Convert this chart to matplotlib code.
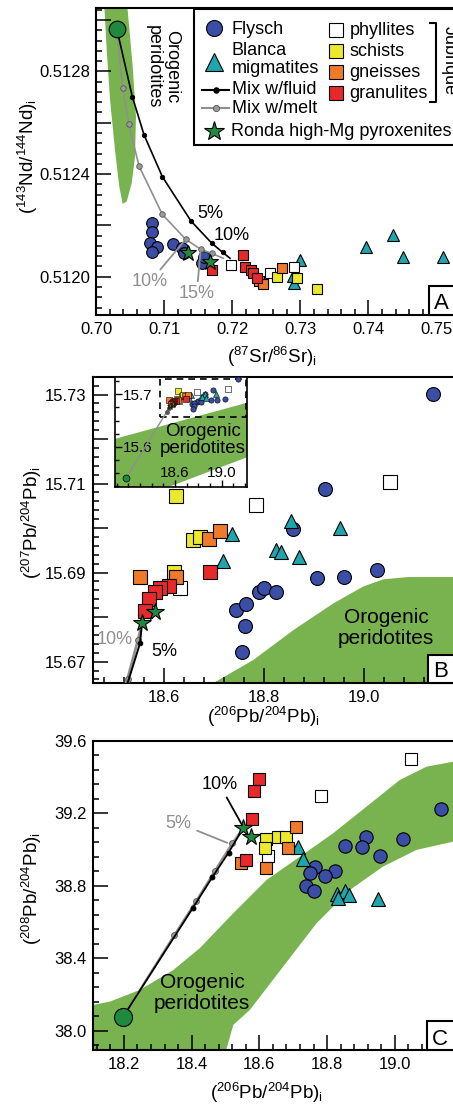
import matplotlib
matplotlib.use("Agg")
import matplotlib.pyplot as plt
from matplotlib.lines import Line2D
from matplotlib.patches import Rectangle
from matplotlib.ticker import MultipleLocator, FixedLocator, FuncFormatter, FormatStrFormatter

plt.rcParams['font.family'] = ['Liberation Sans', 'DejaVu Sans']
plt.rcParams['mathtext.fontset'] = 'custom'
plt.rcParams['mathtext.rm'] = 'Liberation Sans'
plt.rcParams['mathtext.it'] = 'Liberation Sans:italic'
plt.rcParams['mathtext.bf'] = 'Liberation Sans:bold'
plt.rcParams['mathtext.default'] = 'regular'
plt.rcParams['axes.linewidth'] = 1.5

W, H = 453, 1104

# colours
FLYSCH = '#3a4ea5'
BLANCA = '#1ea5ad'
PHYL = 'white'
SCHIST = '#ece82c'
GNEISS = '#ee7a2a'
GRANUL = '#e62a2a'
STAR = '#1f8a3e'
FIELD = '#79b350'
GREY = '#8f8f8f'

# ---------------- panel A : (87Sr/86Sr)i vs (143Nd/144Nd)i
a_flysch_sr = [0.70818, 0.70818, 0.70793, 0.70891, 0.70818, 0.71135, 0.71258, 0.71297, 0.71552, 0.71586]
a_flysch_nd = [0.512208, 0.512173, 0.512133, 0.512117, 0.512098, 0.512126, 0.512111, 0.512091, 0.512052, 0.512078]
a_blanca_sr = [0.72996, 0.72897, 0.72908, 0.73965, 0.74366, 0.74513, 0.75100]
a_blanca_nd = [0.512065, 0.512003, 0.511974, 0.512115, 0.512163, 0.512078, 0.512078]
a_phyl_sr = [0.71978, 0.72555, 0.72903]
a_phyl_nd = [0.512044, 0.512013, 0.512039]
a_schist_sr = [0.72653, 0.72947, 0.73241]
a_schist_nd = [0.512000, 0.511994, 0.511951]
a_gneiss_sr = [0.72394, 0.72457, 0.72727]
a_gneiss_nd = [0.511983, 0.511972, 0.512033]
a_granul_sr = [0.71699, 0.72163, 0.72188, 0.72276, 0.72310, 0.72360]
a_granul_nd = [0.512026, 0.512085, 0.512039, 0.512026, 0.512014, 0.511994]
a_ronda_sr = [0.71355, 0.71674]
a_ronda_nd = [0.512094, 0.512056]
a_perid_sr = [0.70304]
a_perid_nd = [0.512967]
a_fluid_sr = [0.70304, 0.70533, 0.70705, 0.70974, 0.71395, 0.71703, 0.71860, 0.71968]
a_fluid_nd = [0.512967, 0.512702, 0.512553, 0.512390, 0.512217, 0.512130, 0.512095, 0.512072]
a_melt_sr = [0.70304, 0.70392, 0.70480, 0.70631, 0.70974, 0.71317, 0.71537, 0.71699, 0.71869]
a_melt_nd = [0.512967, 0.512735, 0.512595, 0.512432, 0.512243, 0.512146, 0.512107, 0.512091, 0.512072]
a_field_sr = [0.70117, 0.70157, 0.70206, 0.70279, 0.70342, 0.70392, 0.70451, 0.70524, 0.70573, 0.70587, 0.70539, 0.70451]
a_field_nd = [0.51308, 0.512885, 0.51269, 0.512494, 0.512351, 0.512284, 0.512293, 0.512364, 0.512468, 0.512624, 0.512819, 0.51308]

# ---------------- panel B : (206Pb/204Pb)i vs (207Pb/204Pb)i
b_flysch_x = [19.139, 18.922, 18.859, 18.907, 18.960, 19.027, 18.790, 18.800, 18.825, 18.745, 18.765, 18.762, 18.757]
b_flysch_y = [15.7301, 15.7088, 15.6999, 15.6887, 15.6890, 15.6906, 15.6856, 15.6865, 15.6857, 15.6815, 15.6829, 15.6781, 15.6722]
b_blanca_x = [18.855, 18.952, 18.737, 18.719, 18.825, 18.835, 18.870]
b_blanca_y = [15.7015, 15.7000, 15.6986, 15.6925, 15.6951, 15.6946, 15.6936]
b_phyl_x = [19.053, 18.785, 18.633]
b_phyl_y = [15.7103, 15.7051, 15.6865]
b_schist_x = [18.625, 18.659, 18.673, 18.621]
b_schist_y = [15.7073, 15.6973, 15.6979, 15.6902]
b_gneiss_x = [18.552, 18.690, 18.713, 18.625]
b_gneiss_y = [15.6889, 15.6975, 15.6994, 15.6891]
b_granul_x = [18.693, 18.610, 18.592, 18.582, 18.571, 18.562]
b_granul_y = [15.6902, 15.6869, 15.6866, 15.6856, 15.6840, 15.6814]
b_ronda_x = [18.557, 18.583]
b_ronda_y = [15.6786, 15.6812]
b_perid_x = [18.18]
b_perid_y = [15.540]
b_fluid_x = [18.18, 18.553, 18.557]
b_fluid_y = [15.540, 15.6741, 15.6786]
b_melt_x = [18.18, 18.528, 18.549, 18.557]
b_melt_y = [15.540, 15.6661, 15.6749, 15.6786]
b_field_x = [18.68, 18.70, 18.78, 18.86, 18.94, 19.00, 19.04, 19.09, 19.35, 19.35]
b_field_y = [15.66, 15.6652, 15.6704, 15.6771, 15.6831, 15.6869, 15.6885, 15.6890, 15.6890, 15.66]
inset_field_x = [18.0, 19.3, 19.3, 18.557, 18.54, 18.0]
inset_field_y = [15.610, 15.689, 15.587, 15.5245, 15.52, 15.52]

# ---------------- panel C : (206Pb/204Pb)i vs (208Pb/204Pb)i
c_flysch_x = [19.136, 19.024, 18.916, 18.902, 18.852, 18.956, 18.823, 18.793, 18.764, 18.749, 18.739, 18.761]
c_flysch_y = [39.224, 39.057, 39.071, 39.016, 39.021, 38.966, 38.884, 38.854, 38.906, 38.869, 38.801, 38.773]
c_blanca_x = [18.713, 18.730, 18.828, 18.852, 18.865, 18.832, 18.949]
c_blanca_y = [39.013, 38.946, 38.753, 38.772, 38.750, 38.731, 38.726]
c_phyl_x = [19.049, 18.781, 18.626]
c_phyl_y = [39.499, 39.297, 38.966]
c_schist_x = [18.621, 18.654, 18.678, 18.616]
c_schist_y = [39.057, 39.068, 39.068, 39.007]
c_gneiss_x = [18.546, 18.708, 18.685, 18.619]
c_gneiss_y = [38.924, 39.126, 39.007, 38.897]
c_granul_x = [18.599, 18.584, 18.577, 18.562]
c_granul_y = [39.389, 39.325, 39.167, 38.943]
c_ronda_x = [18.552, 18.574]
c_ronda_y = [39.117, 39.071]
c_perid_x = [18.198]
c_perid_y = [38.079]
c_fluid_x = [18.198, 18.403, 18.461, 18.509, 18.552]
c_fluid_y = [38.079, 38.676, 38.847, 38.983, 39.117]
c_melt_x = [18.198, 18.349, 18.413, 18.469, 18.520, 18.552]
c_melt_y = [38.079, 38.529, 38.715, 38.884, 39.035, 39.117]
c_field_x = [18.05, 18.109, 18.159, 18.247, 18.346, 18.424, 18.523, 18.621, 18.720, 18.818, 18.916, 19.015,
             19.094, 19.171, 19.35, 19.35, 19.171, 19.064, 18.965, 18.867, 18.769, 18.670, 18.572, 18.523,
             18.503, 18.50, 18.05]
c_field_y = [38.14, 38.143, 38.162, 38.226, 38.336, 38.456, 38.649, 38.832, 38.961, 39.090, 39.236, 39.384,
             39.457, 39.484, 39.50, 39.06, 39.043, 38.998, 38.906, 38.777, 38.594, 38.354, 38.116, 38.033,
             37.90, 37.85, 37.85]

fig = plt.figure(figsize=(W / 100, H / 100), dpi=100)


def fx(px):
    return px / W


def fy(py):
    return 1 - py / H


def axes_px(left, top, right, bottom):
    return fig.add_axes([left / W, 1 - bottom / H, (right - left) / W, (bottom - top) / H])


def setup(ax, xlim, ylim, xmaj, xmin, ymaj, ymin, xfmt, yfmt):
    ax.set_xlim(*xlim)
    ax.set_ylim(*ylim)
    ax.xaxis.set_major_locator(MultipleLocator(xmaj))
    ax.xaxis.set_minor_locator(MultipleLocator(xmin))
    ax.yaxis.set_major_locator(MultipleLocator(ymaj))
    ax.yaxis.set_minor_locator(MultipleLocator(ymin))
    ax.xaxis.set_major_formatter(xfmt)
    ax.yaxis.set_major_formatter(yfmt)
    ax.tick_params(which='both', direction='in', top=False, right=False, width=1.1, labelsize=12)
    ax.tick_params(axis='x', pad=5)
    ax.tick_params(axis='y', pad=4.5)
    ax.tick_params(which='major', length=11)
    ax.tick_params(which='minor', length=4.5)


def labels(ax, xl, yl, xpos, ypos):
    ax.set_xlabel(xl, fontsize=13.5)
    ax.set_ylabel(yl, fontsize=13.5)
    ax.xaxis.set_label_coords(fx(xpos[0]), fy(xpos[1]), transform=fig.transFigure)
    ax.yaxis.set_label_coords(fx(ypos[0]), fy(ypos[1]), transform=fig.transFigure)
    ax.xaxis.label.set_va('center')
    ax.yaxis.label.set_va('center')


def pts(ax, x, y, marker, fc, ms, z=3, mew=0.8):
    ax.plot(x, y, ls='none', marker=marker, ms=ms, mfc=fc, mec='black', mew=mew, zorder=z)


def mixing(ax, x, y, color, dot_fc, dot_ec, dot_ms, lw=1.2, z=4):
    ax.plot(x, y, color=color, lw=lw, zorder=z)
    ax.plot(x[1:-1], y[1:-1], ls='none', marker='o', ms=dot_ms, mfc=dot_fc, mec=dot_ec, mew=0.6, zorder=z)


def panel_letter(letter, left, top, bottom, baseline):
    fig.add_artist(Rectangle((fx(left), fy(bottom)), (490 - left) / W, (bottom - top) / H,
                             transform=fig.transFigure, fc='white', ec='black', lw=1.5, zorder=5))
    fig.text(fx(left + 5), fy(baseline), letter, fontsize=16, ha='left', va='baseline', zorder=6)


Y_IS = r'$_\mathrm{i}$'

# ================= panel A
ax_a = axes_px(96, 8, 504.6, 315)
setup(ax_a, (0.70, 0.76), (0.511851, 0.513047), 0.01, 0.002, 0.0002, 0.00004,
      FormatStrFormatter('%.2f'),
      FuncFormatter(lambda v, p: f'{v:.4f}' if round(v / 0.0002) % 2 == 0 else ''))
labels(ax_a, r'($^{87}$Sr/$^{86}$Sr)' + Y_IS, r'($^{143}$Nd/$^{144}$Nd)' + Y_IS, (271.7, 356.7), (28, 156.7))

ax_a.fill(a_field_sr, a_field_nd, color=FIELD, lw=0, zorder=1)
ax_a.text(0.70982, 0.512818, 'Orogenic\nperidotites', rotation=-90, ha='center', va='center',
          multialignment='center', fontsize=13, linespacing=1.1, zorder=2)
pts(ax_a, a_flysch_sr, a_flysch_nd, 'o', FLYSCH, 8.4)
pts(ax_a, a_blanca_sr, a_blanca_nd, '^', BLANCA, 8.6)
mixing(ax_a, a_melt_sr, a_melt_nd, GREY, '#9a9a9a', '#555555', 4)
mixing(ax_a, a_fluid_sr, a_fluid_nd, 'black', 'black', 'black', 3.2)
pts(ax_a, a_phyl_sr, a_phyl_nd, 's', PHYL, 7.7, z=5)
pts(ax_a, a_schist_sr, a_schist_nd, 's', SCHIST, 7.7, z=5)
pts(ax_a, a_gneiss_sr, a_gneiss_nd, 's', GNEISS, 7.7, z=5)
pts(ax_a, a_granul_sr, a_granul_nd, 's', GRANUL, 7.7, z=5)
pts(ax_a, a_ronda_sr, a_ronda_nd, '*', STAR, 12, z=6)
pts(ax_a, a_perid_sr, a_perid_nd, 'o', STAR, 12, z=6)

ax_a.text(0.71674, 0.512247, '5%', fontsize=13, ha='center', va='center', zorder=6)
ax_a.text(0.71993, 0.512159, '10%', fontsize=13, ha='center', va='center', zorder=6)
ax_a.annotate('10%', xy=(0.71317, 0.512146), xytext=(0.70793, 0.511980), color=GREY, fontsize=13,
              ha='center', va='center', zorder=6,
              arrowprops=dict(arrowstyle='-', color=GREY, lw=1.3, shrinkA=1, shrinkB=2))
ax_a.annotate('15%', xy=(0.71537, 0.512107), xytext=(0.71479, 0.511933), color=GREY, fontsize=13,
              ha='center', va='center', zorder=6,
              arrowprops=dict(arrowstyle='-', color=GREY, lw=1.3, shrinkA=1, shrinkB=2))

# legend (drawn by hand: one row spans both columns)
fig.add_artist(Rectangle((fx(194.3), fy(145)), (490 - 194.3) / W, (145 - 9.3) / H,
                         transform=fig.transFigure, fc='white', ec='black', lw=1.5, zorder=5))


def leg_marker(px, py, **kw):
    fig.add_artist(Line2D([fx(px)], [fy(py)], ls='none', mec='black', mew=0.8,
                          transform=fig.transFigure, zorder=6, **kw))


def leg_line(py, color, dot_fc, dot_ec, ms):
    fig.add_artist(Line2D([fx(201.7), fx(229.3)], [fy(py), fy(py)], color=color, lw=1.5,
                          transform=fig.transFigure, zorder=6))
    fig.add_artist(Line2D([fx(215.5)], [fy(py)], ls='none', marker='o', ms=ms, mfc=dot_fc, mec=dot_ec,
                          mew=0.6, transform=fig.transFigure, zorder=6))


def leg_text(px, py, s):
    fig.text(fx(px), fy(py), s, fontsize=13, ha='left', va='baseline', zorder=6)


leg_marker(213.5, 28.3, marker='o', ms=11.5, mfc=FLYSCH)
leg_text(231.7, 34.3, 'Flysch')
leg_marker(213.5, 61.7, marker='^', ms=13, mfc=BLANCA)
leg_text(231.7, 55, 'Blanca')
leg_text(231.7, 73.3, 'migmatites')
leg_line(90, 'black', 'black', 'black', 4)
leg_text(231.7, 94.3, 'Mix w/fluid')
leg_line(108.3, GREY, '#9a9a9a', '#555555', 4.5)
leg_text(231.7, 112.7, 'Mix w/melt')
leg_marker(213.5, 131, marker='*', ms=15, mfc=STAR)
leg_text(230.7, 135.5, 'Ronda high-Mg pyroxenites')
for row, (name, col) in enumerate([('phyllites', PHYL), ('schists', SCHIST),
                                   ('gneisses', GNEISS), ('granulites', GRANUL)]):
    leg_marker(335.7, 30 + 21.1 * row, marker='s', ms=10.6, mfc=col)
    leg_text(349.3, 35 + 21.1 * row, name)
fig.add_artist(Line2D([fx(430), fx(435.5), fx(435.5), fx(430)], [fy(22.7), fy(22.7), fy(101.7), fy(101.7)],
                      color='black', lw=1.5, transform=fig.transFigure, zorder=6))
fig.text(fx(449.5), fy(61), 'Jubrique', rotation=-90, ha='center', va='center', fontsize=13, zorder=6)

panel_letter('A', 429, 286, 315, 309.3)

# ================= panel B
ax_b = axes_px(93, 376.7, 458.5, 683)
setup(ax_b, (18.459, 19.19), (15.6652, 15.734), 0.2, 0.04, 0.01, 0.002,
      FormatStrFormatter('%.1f'),
      FuncFormatter(lambda v, p: f'{v:.2f}' if round(v * 100) % 2 == 1 else ''))
labels(ax_b, r'($^{206}$Pb/$^{204}$Pb)' + Y_IS, r'($^{207}$Pb/$^{204}$Pb)' + Y_IS, (263.3, 716.7), (31.7, 523))

ax_b.fill(b_field_x, b_field_y, color=FIELD, lw=0, zorder=1)
ax_b.text(19.045, 15.6775, 'Orogenic\nperidotites', ha='center', va='center', fontsize=15,
          linespacing=1.15, zorder=2)
pts(ax_b, b_flysch_x, b_flysch_y, 'o', FLYSCH, 10)
pts(ax_b, b_blanca_x, b_blanca_y, '^', BLANCA, 10.6)
mixing(ax_b, b_melt_x, b_melt_y, GREY, '#9a9a9a', '#555555', 4.2, lw=2)
mixing(ax_b, b_fluid_x, b_fluid_y, 'black', 'black', 'black', 3.4, lw=1.4)
pts(ax_b, b_phyl_x, b_phyl_y, 's', PHYL, 9.6, z=5)
pts(ax_b, b_schist_x, b_schist_y, 's', SCHIST, 9.6, z=5)
pts(ax_b, b_gneiss_x, b_gneiss_y, 's', GNEISS, 9.6, z=5)
pts(ax_b, b_granul_x, b_granul_y, 's', GRANUL, 9.6, z=5)
pts(ax_b, b_ronda_x, b_ronda_y, '*', STAR, 13, z=6)
ax_b.text(18.503, 15.6749, '10%', color=GREY, fontsize=13, ha='center', va='center', zorder=6)
ax_b.text(18.601, 15.6722, '5%', fontsize=13, ha='center', va='center', zorder=6)
panel_letter('B', 428.3, 655, 683, 676.7)

# inset
ax_in = axes_px(115, 377.3, 247.3, 486.7)
ax_in.set_xlim(18.086, 19.22)
ax_in.set_ylim(15.524, 15.7325)
ax_in.xaxis.set_major_locator(FixedLocator([18.6, 19.0]))
ax_in.xaxis.set_minor_locator(MultipleLocator(0.1))
ax_in.yaxis.set_major_locator(FixedLocator([15.6, 15.7]))
ax_in.yaxis.set_minor_locator(MultipleLocator(0.025))
ax_in.xaxis.set_major_formatter(FormatStrFormatter('%.1f'))
ax_in.yaxis.set_major_formatter(FormatStrFormatter('%.1f'))
ax_in.tick_params(which='both', direction='in', top=False, right=False, width=1, labelsize=11)
ax_in.tick_params(which='major', length=5)
ax_in.tick_params(which='minor', length=3)
ax_in.tick_params(axis='x', pad=-15)
ax_in.tick_params(axis='y', pad=-27)
for sp in ax_in.spines.values():
    sp.set_linewidth(1.2)
ax_in.fill(inset_field_x, inset_field_y, color=FIELD, lw=0, zorder=1)
ax_in.text(18.842, 15.613, 'Orogenic\nperidotites', ha='center', va='center', fontsize=13.5,
           linespacing=1.0, zorder=2)
ax_in.add_patch(Rectangle((18.47, 15.657), 0.74, 0.073, fill=False, ec='black', lw=1.2, ls=(0, (4, 3)),
                          zorder=2))
ax_in.plot(b_melt_x, b_melt_y, color=GREY, lw=1, zorder=3)
ax_in.plot(b_melt_x[1:-1], b_melt_y[1:-1], ls='none', marker='o', ms=2.5, mfc='#555555', mec='#555555',
           zorder=3)
small = 3.8
pts(ax_in, b_flysch_x, b_flysch_y, 'o', FLYSCH, small, mew=0.4)
pts(ax_in, b_blanca_x, b_blanca_y, '^', BLANCA, small, mew=0.4)
pts(ax_in, b_phyl_x, b_phyl_y, 's', PHYL, small, z=5, mew=0.4)
pts(ax_in, b_schist_x, b_schist_y, 's', SCHIST, small, z=5, mew=0.4)
pts(ax_in, b_gneiss_x, b_gneiss_y, 's', GNEISS, small, z=5, mew=0.4)
pts(ax_in, b_granul_x, b_granul_y, 's', GRANUL, small, z=5, mew=0.4)
pts(ax_in, b_ronda_x, b_ronda_y, '*', STAR, 5, z=6, mew=0.4)
pts(ax_in, b_perid_x, b_perid_y, 'o', STAR, 5, z=6, mew=0.5)

# ================= panel C
ax_c = axes_px(92.7, 740.7, 459.2, 1050)
setup(ax_c, (18.108, 19.19), (37.895, 39.6), 0.2, 0.04, 0.4, 0.08,
      FormatStrFormatter('%.1f'), FormatStrFormatter('%.1f'))
labels(ax_c, r'($^{206}$Pb/$^{204}$Pb)' + Y_IS, r'($^{208}$Pb/$^{204}$Pb)' + Y_IS, (266.7, 1093.3), (31.7, 889))

ax_c.fill(c_field_x, c_field_y, color=FIELD, lw=0, zorder=1)
ax_c.text(18.431, 38.209, 'Orogenic\nperidotites', ha='center', va='center', fontsize=15,
          linespacing=1.15, zorder=2)
pts(ax_c, c_flysch_x, c_flysch_y, 'o', FLYSCH, 9.6)
pts(ax_c, c_blanca_x, c_blanca_y, '^', BLANCA, 9.6)
mixing(ax_c, c_melt_x, c_melt_y, GREY, '#9a9a9a', '#555555', 4.2, lw=1.6)
mixing(ax_c, c_fluid_x, c_fluid_y, 'black', 'black', 'black', 3.6, lw=1.3)
pts(ax_c, c_phyl_x, c_phyl_y, 's', PHYL, 8.6, z=5)
pts(ax_c, c_schist_x, c_schist_y, 's', SCHIST, 8.6, z=5)
pts(ax_c, c_gneiss_x, c_gneiss_y, 's', GNEISS, 8.6, z=5)
pts(ax_c, c_granul_x, c_granul_y, 's', GRANUL, 8.6, z=5)
pts(ax_c, c_ronda_x, c_ronda_y, '*', STAR, 13, z=6)
pts(ax_c, c_perid_x, c_perid_y, 'o', STAR, 13, z=6)
ax_c.annotate('10%', xy=(18.549, 39.135), xytext=(18.483, 39.356), fontsize=13, ha='center', va='center',
              zorder=7, arrowprops=dict(arrowstyle='-', color='black', lw=1.3, shrinkA=1, shrinkB=0))
ax_c.annotate('5%', xy=(18.513, 39.031), xytext=(18.362, 39.145), color=GREY, fontsize=13, ha='center',
              va='center', zorder=7,
              arrowprops=dict(arrowstyle='-', color=GREY, lw=1.3, shrinkA=2, shrinkB=2))
panel_letter('C', 427.3, 1020.7, 1050, 1045)

fig.savefig('out.png', dpi=100)
